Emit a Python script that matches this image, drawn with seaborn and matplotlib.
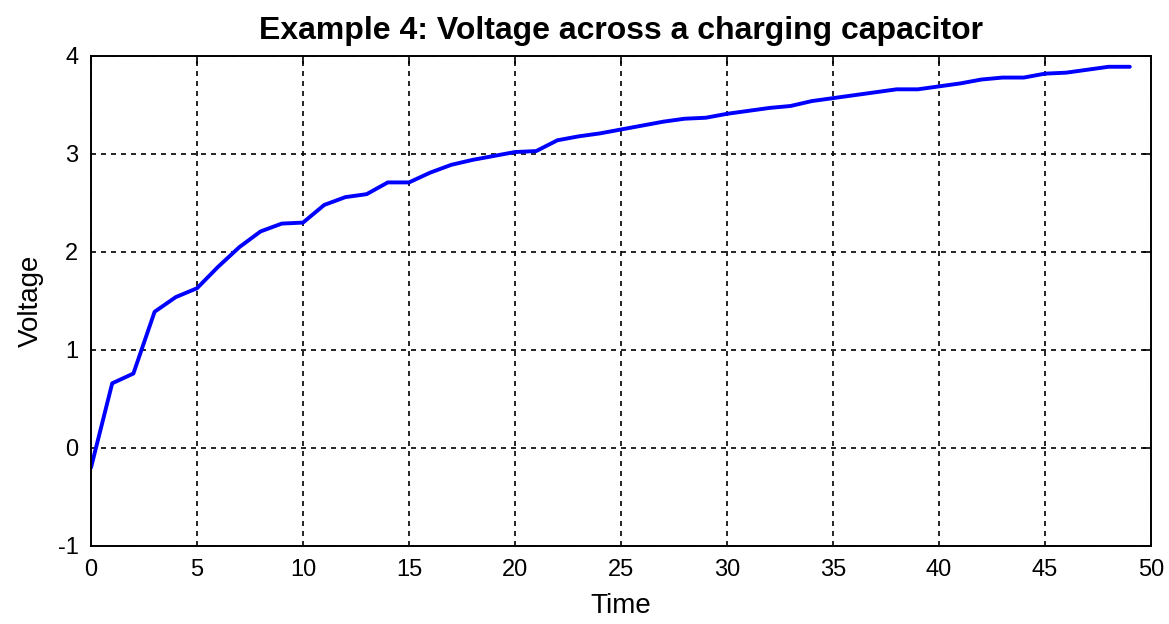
import matplotlib
matplotlib.use("Agg")
import matplotlib.pyplot as plt
import seaborn as sns
import pandas as pd

time = list(range(50))
voltage = [-0.20, 0.66, 0.76, 1.39, 1.54, 1.63, 1.85, 2.05, 2.21, 2.29,
           2.30, 2.48, 2.56, 2.59, 2.71, 2.71, 2.81, 2.89, 2.94, 2.98,
           3.02, 3.03, 3.14, 3.18, 3.21, 3.25, 3.29, 3.33, 3.36, 3.37,
           3.41, 3.44, 3.47, 3.49, 3.54, 3.57, 3.60, 3.63, 3.66, 3.66,
           3.69, 3.72, 3.76, 3.78, 3.78, 3.82, 3.83, 3.86, 3.89, 3.89]
xticks = [0, 5, 10, 15, 20, 25, 30, 35, 40, 45, 50]
yticks = [-1, 0, 1, 2, 3, 4]

sns.set_style("white")
plt.rcParams['font.family'] = ['Liberation Sans', 'DejaVu Sans']

df = pd.DataFrame({"Time": time, "Voltage": voltage})

fig = plt.figure(figsize=(11.69, 6.24), dpi=100)
ax = fig.add_axes([91/1169, 1 - 546/624, (1151 - 91)/1169, (546 - 56)/624])

sns.lineplot(data=df, x="Time", y="Voltage", ax=ax, color=(0, 0, 1), linewidth=2.8)

ax.set_xlim(0, 50)
ax.set_ylim(-1, 4)
ax.set_xticks(xticks)
ax.set_yticks(yticks)
ax.set_xticklabels([str(t) for t in xticks])
ax.set_yticklabels([str(t) for t in yticks])

ax.grid(True, color="black", linestyle=(0, (3, 3)), linewidth=1.2)
ax.set_axisbelow(True)
for s in ax.spines.values():
    s.set_visible(True)
    s.set_color("black")
    s.set_linewidth(1.4)

ax.tick_params(axis="both", direction="in", length=6, width=1.2, colors="black",
               labelsize=17, top=True, right=True, pad=9)

ax.set_xlabel("Time", fontsize=20, color="black", labelpad=9)
ax.set_ylabel("Voltage", fontsize=20, color="black", labelpad=10)
ax.set_title("Example 4: Voltage across a charging capacitor", fontsize=23,
             fontweight="bold", color="black", pad=12)

fig.savefig("out.png", dpi=100)
